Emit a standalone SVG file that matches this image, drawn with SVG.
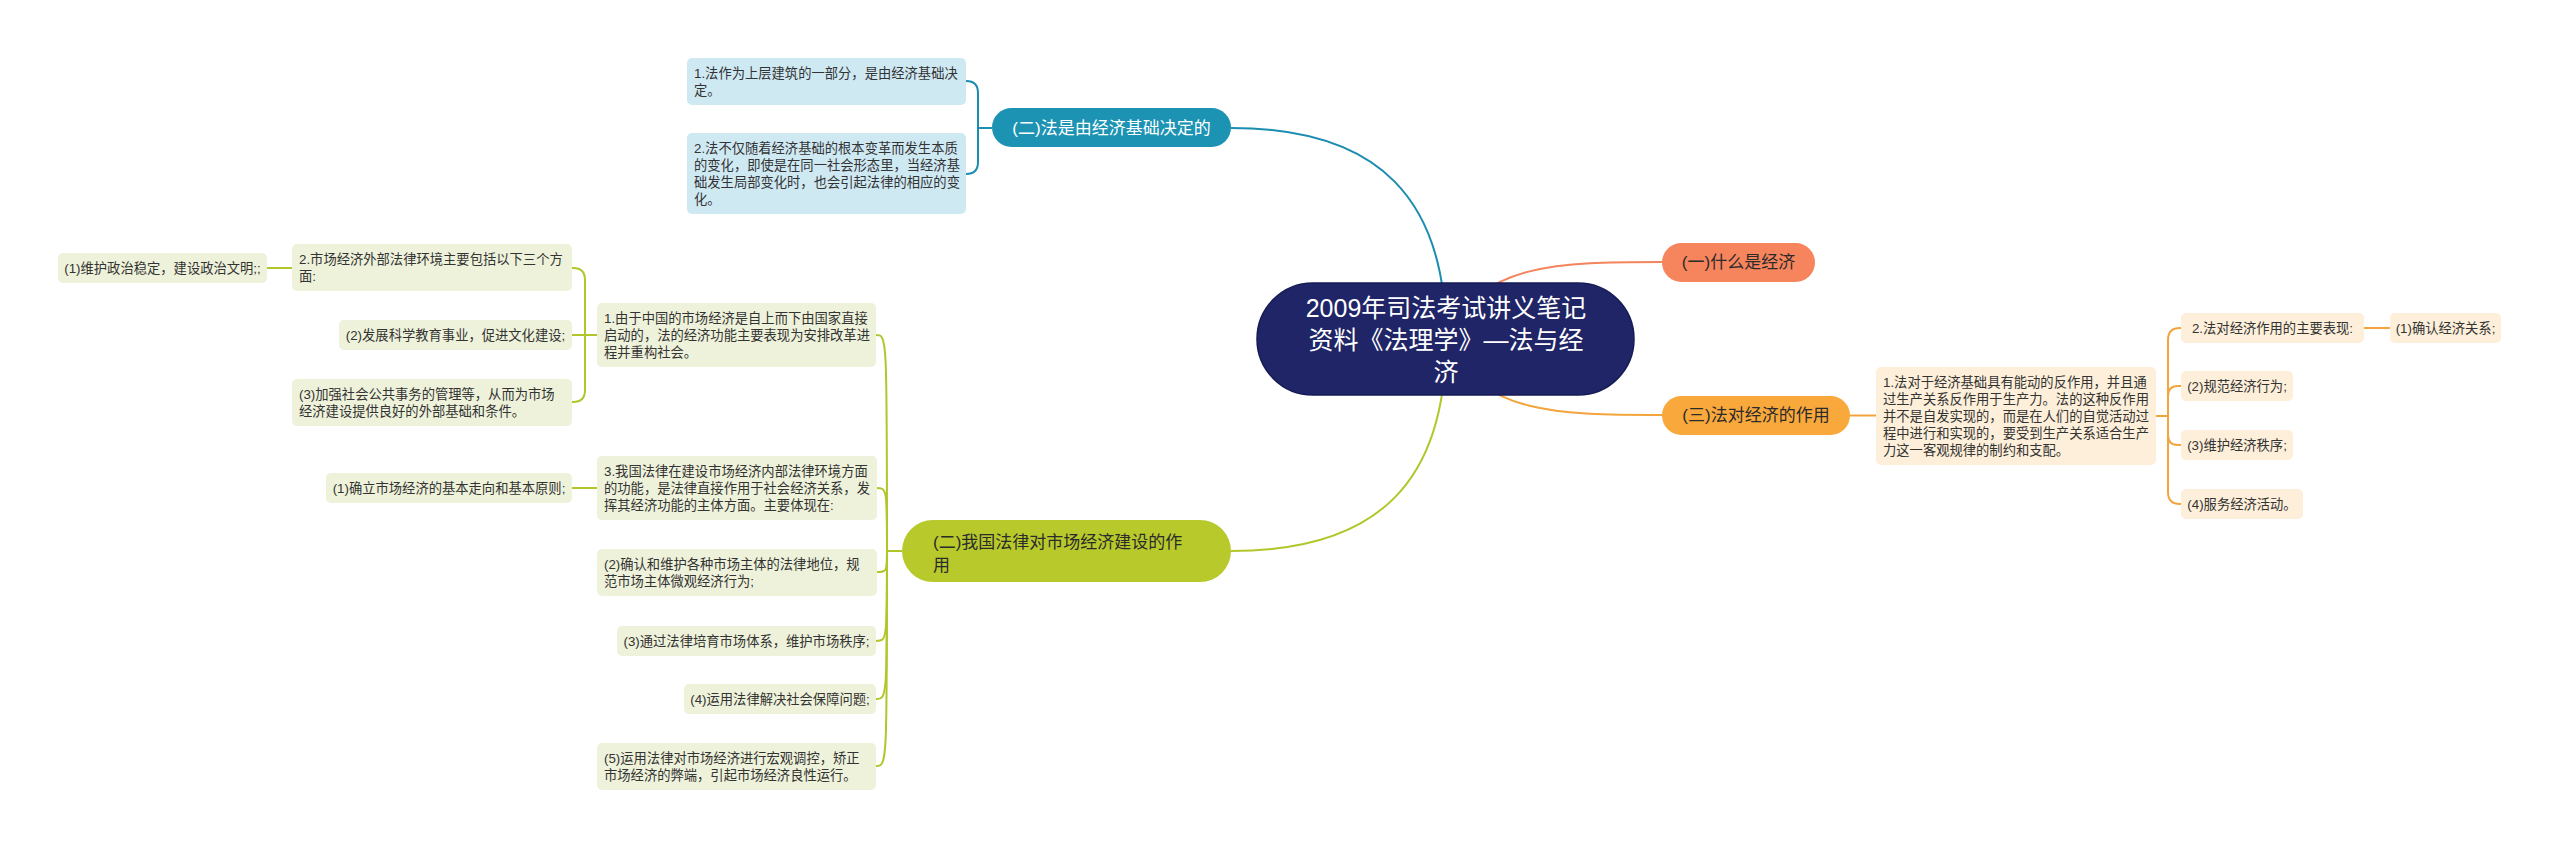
<svg xmlns="http://www.w3.org/2000/svg" width="2560" height="848" viewBox="0 0 2560 848">
<style>
text{font-family:"Liberation Sans","Noto Sans CJK SC",sans-serif;}
.t{font-size:13.3px;fill:#333333;}
.tm{text-anchor:middle;}
.m{font-size:17px;fill:#2b2b2b;}
.mw{font-size:17px;fill:#ffffff;}
.c{font-size:25px;fill:#ffffff;text-anchor:middle;}
.cb{fill:#cfe9f3;}
.cg{fill:#eef2da;}
.co{fill:#fdefd9;}
.lt{fill:none;stroke:#1a8db0;stroke-width:2;}
.lg{fill:none;stroke:#b2c62a;stroke-width:2;}
.lo{fill:none;stroke:#f3a53d;stroke-width:2;}
.lc{fill:none;stroke:#f4845c;stroke-width:2;}
</style>
<rect width="2560" height="848" fill="#ffffff"/>
<g id="connectors">
<path class="lt" d="M1446 339 C1446 200 1380 128 1231 128" stroke-width="2.5"/>
<path class="lg" d="M1446 339 C1446 480 1380 551 1231 551" stroke-width="2.5"/>
<path class="lc" d="M1446 339 C1480 262 1560 262 1662 262" stroke-width="2.5"/>
<path class="lo" d="M1446 339 C1480 415 1560 415 1662 415" stroke-width="2.5"/>
<path class="lt" d="M992 128 H978 V93 Q978 81 966 81"/>
<path class="lt" d="M992 128 H978 V162 Q978 174 966 174"/>
<path class="lg" d="M597 335 H585 V280 Q585 268 573 268 H572"/>
<path class="lg" d="M597 335 H572"/>
<path class="lg" d="M597 335 H585 V390 Q585 402 573 402 H572"/>
<path class="lg" d="M292 268 H267"/>
<path class="lg" d="M902 551 H887 C887 335 887 335 876 335"/>
<path class="lg" d="M902 551 H887 C887 488 887 488 876 488"/>
<path class="lg" d="M902 551 H887 C887 572 887 572 876 572"/>
<path class="lg" d="M902 551 H887 C887 641 887 641 876 641"/>
<path class="lg" d="M902 551 H887 C887 699 887 699 876 699"/>
<path class="lg" d="M902 551 H887 C887 766 887 766 876 766"/>
<path class="lg" d="M597 488 H572"/>
<path class="lo" d="M1850 415.5 H1876"/>
<path class="lo" d="M2156 416 H2168 V340 Q2168 328 2180 328 H2181"/>
<path class="lo" d="M2156 416 H2168 V396 Q2168 386 2178 386 H2181"/>
<path class="lo" d="M2156 416 H2168 V435 Q2168 445 2178 445 H2181"/>
<path class="lo" d="M2156 416 H2168 V492 Q2168 504 2180 504 H2181"/>
<path class="lo" d="M2364 328 H2390"/>
</g>
<g id="root">
<rect x="1257" y="283" width="377" height="112" rx="56" fill="#1f2566" stroke="#161b55" stroke-width="1.5"/>
<text class="c" x="1446" y="317">2009年司法考试讲义笔记</text>
<text class="c" x="1446" y="349">资料《法理学》—法与经</text>
<text class="c" x="1446" y="381">济</text>
</g>
<g id="n-econ">
<rect x="1662" y="243" width="153" height="39" rx="19.5" fill="#f6845c"/>
<text class="m tm" x="1738.5" y="268">(一)什么是经济</text>
</g>
<g id="n-base">
<rect x="992" y="108" width="239" height="39" rx="19.5" fill="#1c93b3"/>
<text class="mw tm" x="1111.5" y="134">(二)法是由经济基础决定的</text>
</g>
<g id="n-role">
<rect x="1662" y="396" width="188" height="39" rx="19.5" fill="#f9a83b"/>
<text class="m tm" x="1756" y="421">(三)法对经济的作用</text>
</g>
<g id="n-market">
<rect x="902" y="520" width="329" height="62" rx="31" fill="#b7c92b"/>
<text class="m" x="933" y="548">(二)我国法律对市场经济建设的作</text>
<text class="m" x="933" y="571">用</text>
</g>
<g id="a1">
<rect class="cb" x="687" y="58" width="279" height="47" rx="5"/>
<text class="t" x="694" y="78">1.法作为上层建筑的一部分，是由经济基础决</text>
<text class="t" x="694" y="95">定。</text>
</g>
<g id="a2">
<rect class="cb" x="687" y="133" width="279" height="81" rx="5"/>
<text class="t" x="694" y="153">2.法不仅随着经济基础的根本变革而发生本质</text>
<text class="t" x="694" y="170">的变化，即使是在同一社会形态里，当经济基</text>
<text class="t" x="694" y="187">础发生局部变化时，也会引起法律的相应的变</text>
<text class="t" x="694" y="204">化。</text>
</g>
<g id="c1">
<rect class="cg" x="597" y="303" width="279" height="64" rx="5"/>
<text class="t" x="604" y="323">1.由于中国的市场经济是自上而下由国家直接</text>
<text class="t" x="604" y="340">启动的，法的经济功能主要表现为安排改革进</text>
<text class="t" x="604" y="357">程并重构社会。</text>
</g>
<g id="b2">
<rect class="cg" x="292" y="244" width="280" height="47" rx="5"/>
<text class="t" x="299" y="264">2.市场经济外部法律环境主要包括以下三个方</text>
<text class="t" x="299" y="281">面:</text>
</g>
<g id="b21">
<rect class="cg" x="58" y="253" width="209" height="30" rx="5"/>
<text class="t tm" x="162.5" y="273">(1)维护政治稳定，建设政治文明;;</text>
</g>
<g id="b3">
<rect class="cg" x="339" y="320" width="233" height="30" rx="5"/>
<text class="t tm" x="455.5" y="340">(2)发展科学教育事业，促进文化建设;</text>
</g>
<g id="b4">
<rect class="cg" x="292" y="379" width="280" height="47" rx="5"/>
<text class="t" x="299" y="399">(3)加强社会公共事务的管理等，从而为市场</text>
<text class="t" x="299" y="416">经济建设提供良好的外部基础和条件。</text>
</g>
<g id="d">
<rect class="cg" x="597" y="456" width="280" height="64" rx="5"/>
<text class="t" x="604" y="476">3.我国法律在建设市场经济内部法律环境方面</text>
<text class="t" x="604" y="493">的功能，是法律直接作用于社会经济关系，发</text>
<text class="t" x="604" y="510">挥其经济功能的主体方面。主要体现在:</text>
</g>
<g id="d1">
<rect class="cg" x="326" y="473" width="246" height="30" rx="5"/>
<text class="t tm" x="449" y="493">(1)确立市场经济的基本走向和基本原则;</text>
</g>
<g id="d2">
<rect class="cg" x="597" y="549" width="280" height="47" rx="5"/>
<text class="t" x="604" y="569">(2)确认和维护各种市场主体的法律地位，规</text>
<text class="t" x="604" y="586">范市场主体微观经济行为;</text>
</g>
<g id="d3">
<rect class="cg" x="617" y="626" width="259" height="30" rx="5"/>
<text class="t tm" x="746.5" y="646">(3)通过法律培育市场体系，维护市场秩序;</text>
</g>
<g id="d4">
<rect class="cg" x="684" y="684" width="192" height="30" rx="5"/>
<text class="t tm" x="780" y="704">(4)运用法律解决社会保障问题;</text>
</g>
<g id="d5">
<rect class="cg" x="597" y="743" width="279" height="47" rx="5"/>
<text class="t" x="604" y="763">(5)运用法律对市场经济进行宏观调控，矫正</text>
<text class="t" x="604" y="780">市场经济的弊端，引起市场经济良性运行。</text>
</g>
<g id="e">
<rect class="co" x="1876" y="367" width="280" height="98" rx="5"/>
<text class="t" x="1883" y="387">1.法对于经济基础具有能动的反作用，并且通</text>
<text class="t" x="1883" y="404">过生产关系反作用于生产力。法的这种反作用</text>
<text class="t" x="1883" y="421">并不是自发实现的，而是在人们的自觉活动过</text>
<text class="t" x="1883" y="438">程中进行和实现的，要受到生产关系适合生产</text>
<text class="t" x="1883" y="455">力这一客观规律的制约和支配。</text>
</g>
<g id="f1">
<rect class="co" x="2181" y="313" width="183" height="30" rx="5"/>
<text class="t tm" x="2272.5" y="333">2.法对经济作用的主要表现:</text>
</g>
<g id="f11">
<rect class="co" x="2390" y="313" width="111" height="30" rx="5"/>
<text class="t tm" x="2445.5" y="333">(1)确认经济关系;</text>
</g>
<g id="f2">
<rect class="co" x="2181" y="371" width="112" height="30" rx="5"/>
<text class="t tm" x="2237" y="391">(2)规范经济行为;</text>
</g>
<g id="f3">
<rect class="co" x="2181" y="430" width="112" height="30" rx="5"/>
<text class="t tm" x="2237" y="450">(3)维护经济秩序;</text>
</g>
<g id="f4">
<rect class="co" x="2181" y="489" width="122" height="30" rx="5"/>
<text class="t tm" x="2242" y="509">(4)服务经济活动。</text>
</g>
</svg>
